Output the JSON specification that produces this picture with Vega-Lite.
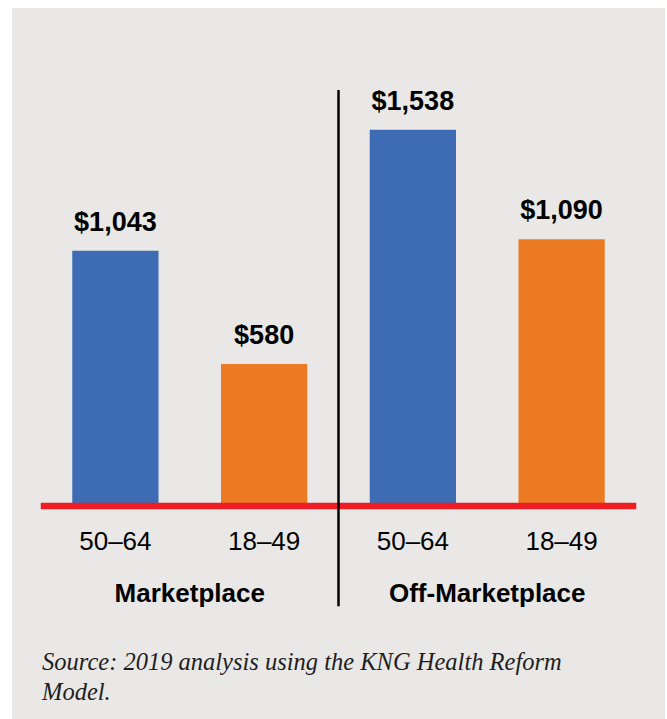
{
  "$schema": "https://vega.github.io/schema/vega-lite/v6.json",
  "width": 653,
  "height": 711,
  "padding": {"left": 12, "top": 8, "right": 2, "bottom": 0},
  "autosize": {"type": "none"},
  "background": "#ffffff",
  "view": {"fill": "#e9e8e6", "stroke": null},
  "config": {"font": "Liberation Sans"},
  "data": {
    "values": [
      {"market": "Marketplace", "age": "50–64", "premium": 1043},
      {"market": "Marketplace", "age": "18–49", "premium": 580},
      {"market": "Off-Marketplace", "age": "50–64", "premium": 1538},
      {"market": "Off-Marketplace", "age": "18–49", "premium": 1090}
    ]
  },
  "encoding": {
    "x": {
      "field": "market",
      "type": "nominal",
      "sort": ["Marketplace", "Off-Marketplace"],
      "axis": null,
      "scale": {"paddingInner": 0, "paddingOuter": 0.0976}
    }
  },
  "layer": [
    {
      "mark": {"type": "bar"},
      "encoding": {
        "xOffset": {"field": "age", "type": "nominal", "sort": ["50–64", "18–49"], "scale": {"paddingInner": 0.42, "paddingOuter": 0.21}},
        "y": {"field": "premium", "type": "quantitative", "scale": {"domain": [-870, 2035], "nice": false, "zero": false}, "axis": null},
        "color": {"field": "age", "type": "nominal", "scale": {"domain": ["50–64", "18–49"], "range": ["#3d6cb4", "#ec7a23"]}, "legend": null}
      }
    },
    {
      "data": {"values": [{"market": "Marketplace"}, {"market": "Off-Marketplace"}]},
      "mark": {"type": "tick", "orient": "horizontal", "size": 298, "thickness": 6.5, "color": "#ee1d24", "opacity": 1},
      "encoding": {"y": {"datum": 0, "type": "quantitative"}}
    },
    {
      "data": {"values": [{}]},
      "mark": {"type": "rule", "color": "#000000", "strokeWidth": 2.5},
      "encoding": {
        "x": {"datum": "Off-Marketplace", "bandPosition": 0},
        "y": {"datum": 1700, "type": "quantitative"},
        "y2": {"datum": -409}
      }
    },
    {
      "mark": {"type": "text", "dy": -20, "baseline": "alphabetic", "fontWeight": "bold", "fontSize": 27, "color": "#000000"},
      "encoding": {
        "xOffset": {"field": "age", "type": "nominal", "sort": ["50–64", "18–49"]},
        "y": {"field": "premium", "type": "quantitative"},
        "text": {"field": "premium", "type": "quantitative", "format": "$,.0f"}
      }
    },
    {
      "mark": {"type": "text", "dy": 44, "baseline": "alphabetic", "fontSize": 26, "color": "#000000"},
      "encoding": {
        "xOffset": {"field": "age", "type": "nominal", "sort": ["50–64", "18–49"]},
        "y": {"datum": 0, "type": "quantitative"},
        "text": {"field": "age", "type": "nominal"}
      }
    },
    {
      "data": {"values": [{"market": "Marketplace"}, {"market": "Off-Marketplace"}]},
      "mark": {"type": "text", "dy": 96, "baseline": "alphabetic", "fontSize": 26, "fontWeight": "bold", "color": "#000000"},
      "encoding": {
        "y": {"datum": 0, "type": "quantitative"},
        "text": {"field": "market", "type": "nominal"}
      }
    },
    {
      "data": {"values": [{"note": "Source: 2019 analysis using the KNG Health Reform\nModel."}]},
      "mark": {"type": "text", "dy": 164, "dx": 1, "align": "left", "baseline": "alphabetic", "lineBreak": "\n", "lineHeight": 30, "font": "Liberation Serif", "fontStyle": "italic", "fontSize": 24.5, "color": "#1e1e1e"},
      "encoding": {
        "x": {"datum": "Marketplace", "bandPosition": 0},
        "y": {"datum": 0, "type": "quantitative"},
        "text": {"field": "note", "type": "nominal"}
      }
    }
  ]
}
